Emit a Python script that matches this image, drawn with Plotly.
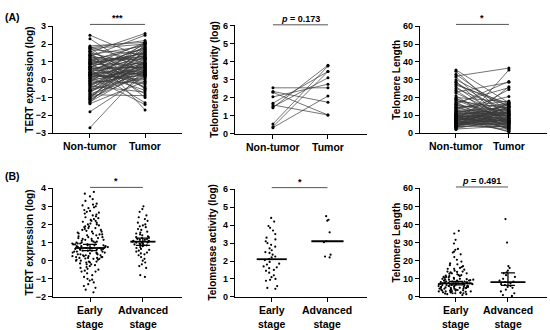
import plotly.graph_objects as go
from plotly.subplots import make_subplots

FONT = "Liberation Sans, Arial, sans-serif"

# ---------------- (A) paired data ----------------
a1_cats = ["Non-tumor", "Tumor"]
a1_nontumor = [2.5, 2.3, 1.9, 1.85, 1.8, 1.75, 1.7, 1.62, 1.55, 1.5,
               1.45, 1.4, 1.38, 1.3, 1.25, 1.2, 1.15, 1.1, 1.05, 1.0,
               0.98, 0.92, 0.88, 0.85, 0.8, 0.75, 0.72, 0.7, 0.65, 0.6,
               0.58, 0.55, 0.5, 0.45, 0.42, 0.4, 0.35, 0.3, 0.28, 0.25,
               0.2, 0.18, 0.15, 0.1, 0.08, 0.05, 0.0, -0.05, -0.08, -0.1,
               -0.15, -0.2, -0.25, -0.3, -0.35, -0.4, -0.45, -0.5, -0.55, -0.6,
               -0.65, -0.7, -0.75, -0.8, -0.85, -0.9, -0.95, -1.0, -1.05, -1.1,
               -1.15, -1.2, -1.25, -1.3, -1.35, -1.8, -2.7, 1.6, 1.1, 0.6,
               0.3, 0.9, -0.3, 0.2, 1.35, 0.7, 1.0, -0.6, 0.4, 1.8]
a1_tumor = [1.2, 0.3, 2.1, 0.9, -0.5, 2.0, 1.4, 0.1, 2.6, 0.8,
            -1.0, 1.9, 0.5, 2.5, 1.1, -0.3, 1.7, 0.6, 2.0, 0.2,
            1.3, -0.8, 1.5, 0.9, 2.1, 0.4, -0.4, 1.8, 0.7, 1.2,
            -1.3, 0.3, 1.6, 1.0, -0.6, 2.0, 0.5, 1.4, -0.1, 0.9,
            1.7, 0.2, -1.4, 1.1, 0.6, 1.9, 0.4, 1.3, -0.2, 0.8,
            2.1, 0.3, 1.0, 0.5, -0.7, 1.5, 0.7, 1.2, 0.1, 1.8,
            0.4, 0.9, 1.6, 0.2, -0.9, 1.0, 0.6, 1.4, 0.3, 2.0,
            0.8, 1.1, 0.5, 1.7, -0.1, 0.2, 0.6, -1.7, 1.3, 0.7,
            0.0, 1.5, 0.9, 0.4, -0.5, 1.8, 1.2, 0.8, 0.3, 2.2]

a2_nontumor = [2.55, 2.35, 2.3, 2.05, 1.7, 1.6, 1.5, 1.45, 0.55, 0.4, 0.35]
a2_tumor = [2.55, 1.75, 1.05, 2.75, 3.45, 1.05, 3.1, 3.8, 3.75, 3.45, 2.1]

a3_nontumor = [35.5, 34.8, 33, 32, 31.5, 30, 29, 28.5, 27, 26,
               25, 24, 23, 22.5, 21, 20, 19.5, 19, 18, 17.5,
               17, 16.5, 16, 15.5, 15, 14.5, 14, 13.5, 13, 12.5,
               12, 11.8, 11.5, 11, 10.8, 10.5, 10.2, 10, 9.8, 9.5,
               9.2, 9, 8.8, 8.5, 8.2, 8, 7.8, 7.5, 7.2, 7,
               6.8, 6.5, 6.2, 6, 5.8, 5.5, 5.2, 5, 4.8, 4.5,
               4.2, 4, 3.8, 3.5, 3.2, 3, 2.8, 2.5, 2.2, 2,
               8.6, 11.2, 6.6, 9.6, 13.2, 7.4, 5.6, 10.4, 12.2, 14.2,
               3.6, 4.6, 6.4, 8.4, 9.4, 5.4, 7.6, 16.2, 18.5, 27.5]
a3_tumor = [17, 8, 12, 36.5, 5, 15, 3, 10, 16.5, 6,
            13, 4.5, 28.5, 9, 2, 17.5, 7, 11, 14, 1.5,
            25.5, 8.5, 6, 12.5, 3.5, 16, 10.5, 20.5, 5.5, 9.5,
            14.5, 7.5, 4, 17, 11.5, 2.5, 13.5, 6.5, 8, 15.5,
            10, 3, 12, 5, 24.5, 7, 16.5, 9, 1, 11,
            6, 14, 4.5, 8.5, 13, 2, 10, 7.5, 15, 5.5,
            12, 9, 3.5, 17, 6.5, 11.5, 26, 8, 4, 35.5,
            5, 7, 16, 2.5, 10.5, 13.5, 4.5, 6, 9.5, 18,
            12.5, 8, 3, 11, 0.5, 14.5, 6.5, 29, 7, 15]

# ---------------- (B) stage data ----------------
b_cats = ["Early<br>stage", "Advanced<br>stage"]
b1_early = [3.8, 3.7, 3.55, 3.4, 3.3, 3.15, 3.1, 3.05, 3.0, 2.95,
            2.9, 2.8, 2.75, 2.7, 2.6, 2.55, 2.5, 2.45, 2.4, 2.35,
            2.3, 2.25, 2.2, 2.15, 2.1, 2.05, 2.0, 2.0, 1.95, 1.9,
            1.85, 1.8, 1.8, 1.75, 1.7, 1.65, 1.6, 1.6, 1.55, 1.5,
            1.5, 1.45, 1.4, 1.4, 1.35, 1.3, 1.3, 1.25, 1.2, 1.2,
            1.15, 1.1, 1.1, 1.05, 1.0, 1.0, 1.0, 0.95, 0.95, 0.9,
            0.9, 0.85, 0.85, 0.8, 0.8, 0.8, 0.75, 0.75, 0.7, 0.7,
            0.7, 0.65, 0.65, 0.6, 0.6, 0.6, 0.55, 0.55, 0.5, 0.5,
            0.5, 0.45, 0.45, 0.4, 0.4, 0.35, 0.35, 0.3, 0.3, 0.3,
            0.25, 0.25, 0.2, 0.2, 0.2, 0.15, 0.15, 0.1, 0.1, 0.05,
            0.05, 0.0, 0.0, -0.05, -0.1, -0.1, -0.15, -0.2, -0.2, -0.25,
            -0.3, -0.35, -0.4, -0.45, -0.5, -0.55, -0.6, -0.6, -0.7, -0.8,
            -0.9, -1.0, -1.05, -1.1, -1.2, -1.3, -1.4, -1.5, -1.6, -1.75,
            2.65, 2.2, 1.9, 1.7, 1.45, 1.15, 0.95, 0.75, 0.55, 0.35,
            0.15, 1.05, 0.85, 0.65, 0.45, 0.25, 0.12, -0.05, 1.25, 0.9]
b1_adv = [3.0, 2.85, 2.7, 2.5, 2.4, 2.3, 2.2, 2.1, 2.0, 1.95,
          1.9, 1.85, 1.75, 1.7, 1.6, 1.55, 1.5, 1.45, 1.4, 1.35,
          1.3, 1.25, 1.2, 1.15, 1.1, 1.1, 1.05, 1.05, 1.0, 1.0,
          0.95, 0.95, 0.9, 0.85, 0.8, 0.75, 0.7, 0.65, 0.6, 0.55,
          0.5, 0.45, 0.4, 0.35, 0.3, 0.2, 0.1, 0.0, -0.1, -0.2,
          -0.3, -0.4, -0.8, -0.9, 1.15, 1.2, 0.9, 1.0, 1.3, 0.85]
b1_median = [0.7, 1.05]
b1_ci_lo = [0.55, 0.85]
b1_ci_hi = [0.9, 1.25]

b2_early = [4.4, 4.2, 3.95, 3.85, 3.7, 3.5, 3.3, 3.2, 3.0, 2.9,
            2.8, 2.7, 2.6, 2.5, 2.45, 2.35, 2.2, 2.1, 2.05, 1.95,
            1.85, 1.8, 1.7, 1.6, 1.5, 1.45, 1.35, 1.2, 1.1, 1.0,
            0.95, 0.9, 0.6, 0.5, 0.45, 2.25, 1.65, 3.1]
b2_adv = [4.5, 4.3, 4.25, 3.6, 3.1, 3.05, 2.35, 2.25, 2.2]
b2_median = [2.1, 3.1]

b3_early = [36.5, 35, 31.5, 29.5, 26.5, 26, 25, 24.5, 23.5, 22,
            20.5, 19.5, 18.5, 18, 17, 16.5, 16, 15.5, 15.5, 15,
            14.5, 14, 14, 13.5, 13, 13, 12.5, 12, 12, 11.5,
            11.5, 11, 11, 10.5, 10.5, 10, 10, 10, 9.5, 9.5,
            9.5, 9, 9, 9, 8.5, 8.5, 8.5, 8, 8, 8,
            8, 7.5, 7.5, 7.5, 7.5, 7, 7, 7, 7, 6.5,
            6.5, 6.5, 6.5, 6, 6, 6, 6, 5.5, 5.5, 5.5,
            5, 5, 5, 5, 4.5, 4.5, 4.5, 4, 4, 4,
            3.5, 3.5, 3.5, 3, 3, 3, 2.5, 2.5, 2.5, 2,
            2, 2, 1.5, 1.5, 1, 17.5, 12.8, 9.8, 8.2, 7.2,
            6.8, 5.8, 5.2, 4.8, 4.2, 3.8, 3.2, 2.8, 2.2, 10.8,
            11.8, 13.8, 6.2, 7.8, 9.2, 5.6, 4.6, 3.6, 2.6, 1.8]
b3_adv = [43, 30, 17, 16, 13.5, 13, 12, 11, 10, 9, 8.5, 8.2,
          7.5, 7, 6.5, 5.5, 5, 4, 3, 2, 1, 0.5, 14.5, 6]
b3_median = [7.5, 8.2]
b3_ci_lo = [6.6, 6.3]
b3_ci_hi = [8.6, 13.3]

# --------------------------------------------------
W, H = 550, 330
fig = make_subplots(rows=2, cols=3)


def paired(nt, t):
    xs, ys = [], []
    for a, b in zip(nt, t):
        xs += [0, 1, None]
        ys += [a, b, None]
    return xs, ys


for (nt, t, col) in [(a1_nontumor, a1_tumor, 1), (a2_nontumor, a2_tumor, 2),
                     (a3_nontumor, a3_tumor, 3)]:
    xs, ys = paired(nt, t)
    fig.add_trace(go.Scatter(x=xs, y=ys, mode="lines+markers",
                             line=dict(color="#3a3a3a", width=0.7),
                             marker=dict(color="black", size=3, symbol="circle"),
                             cliponaxis=False, hoverinfo="skip", showlegend=False),
                  row=1, col=col)


def swarm(vals, pos, width, jitter, col, size=2.2):
    fig.add_trace(go.Box(y=vals, x0=pos, boxpoints="all", jitter=jitter, pointpos=0,
                         width=width, fillcolor="rgba(0,0,0,0)",
                         line=dict(color="rgba(0,0,0,0)", width=0),
                         marker=dict(color="black", size=size),
                         hoverinfo="skip", showlegend=False),
                  row=2, col=col)


swarm(b1_early, 0, 0.75, 0.9, 1)
swarm(b1_adv, 1, 0.5, 0.85, 1)
swarm(b2_early, 0, 0.3, 1.0, 2)
swarm(b2_adv, 1, 0.15, 1.0, 2)
swarm(b3_early, 0, 0.75, 0.95, 3)
swarm(b3_adv, 1, 0.4, 0.9, 3)


def median_marks(med, lo, hi, sizes, col):
    for i in range(2):
        err = None
        if lo is not None:
            err = dict(type="data", symmetric=False, array=[hi[i] - med[i]],
                       arrayminus=[med[i] - lo[i]], color="black",
                       thickness=1.3, width=7)
        fig.add_trace(go.Scatter(x=[i], y=[med[i]], mode="markers",
                                 marker=dict(symbol="line-ew", size=sizes[i],
                                             line=dict(color="black", width=1.8)),
                                 error_y=err, cliponaxis=False,
                                 hoverinfo="skip", showlegend=False),
                      row=2, col=col)


median_marks(b1_median, b1_ci_lo, b1_ci_hi, [21.5, 18], 1)
median_marks(b2_median, None, None, [21.5, 23], 2)
median_marks(b3_median, b3_ci_lo, b3_ci_hi, [23.5, 25], 3)

# --------------- axes ---------------
panels = [
    ("xaxis", "yaxis", "x", (53, 182), (22, 132), [-0.67, 1.67], [-3, 3], 1, a1_cats),
    ("xaxis2", "yaxis2", "x2", (235, 367), (21, 133), [-0.69, 1.71], [0, 6], 1, a1_cats),
    ("xaxis3", "yaxis3", "x3", (420, 547), (22, 132), [-0.68, 1.72], [0, 60], 10, a1_cats),
    ("xaxis4", "yaxis4", "x4", (53, 182), (189, 301), [-0.70, 1.74], [-2, 4], 1, b_cats),
    ("xaxis5", "yaxis5", "x5", (235, 367), (190, 301), [-0.66, 1.71], [0, 6], 1, b_cats),
    ("xaxis6", "yaxis6", "x6", (420, 547), (189, 301), [-0.69, 1.75], [0, 60], 10, b_cats),
]
common = dict(showline=True, linecolor="black", linewidth=1.4, ticks="outside",
              ticklen=4, tickwidth=1.2, tickcolor="black", showgrid=False,
              zeroline=False, fixedrange=True)
ann = []
for xk, yk, xref, (x0, x1), (yt, yb), xr, yr, dt, cats in panels:
    fig.layout[xk].update(domain=[x0 / W, x1 / W], range=xr, tickvals=[0, 1],
                          ticktext=["", ""], **common)
    fig.layout[yk].update(domain=[(H - yb) / H, (H - yt) / H], range=yr, dtick=dt,
                          tickfont=dict(family=FONT, size=9, color="black", weight="bold"),
                          **common)
    for i, c in enumerate(cats):
        ann.append(dict(text=c, x=i, y=(H - yb - 5) / H, xref=xref, yref="paper",
                        xanchor="center", yanchor="top", showarrow=False,
                        font=dict(family=FONT, size=10.5, color="black", weight="bold")))

# --------------- annotations ---------------
titles = [("TERT expression (log)", 30, 77), ("Telomerase activity (log)", 215, 77),
          ("Telomere Length", 397, 77), ("TERT expression (log)", 30, 245),
          ("Telomerase activity (log)", 213, 245), ("Telomere Length", 397, 245)]
for txt, xp, yp in titles:
    ann.append(dict(text=txt, x=xp / W, y=(H - yp) / H, xref="paper", yref="paper",
                    xanchor="center", yanchor="middle", textangle=-90, showarrow=False,
                    font=dict(family=FONT, size=10, color="black", weight="bold")))

sig = [("x", "y domain", "***", 1.018), ("x2", "y2 domain", "<i>p</i> = 0.173", 1.005),
       ("x3", "y3 domain", "*", 1.018), ("x4", "y4 domain", "*", 1.008),
       ("x5", "y5 domain", "*", 1.015), ("x6", "y6 domain", "<i>p</i> = 0.491", 1.012)]
shapes = []
for xr_, yr_, txt, yv in sig:
    shapes.append(dict(type="line", xref=xr_, yref=yr_, x0=0, x1=1, y0=yv, y1=yv,
                       line=dict(color="#555555", width=1)))
    ann.append(dict(text=txt, x=0.5, y=yv, xref=xr_, yref=yr_, xanchor="center",
                    yanchor="bottom", showarrow=False, yshift=-1,
                    font=dict(family=FONT, size=9, color="black", weight="bold")))

for txt, yp in [("(A)", 12), ("(B)", 176)]:
    ann.append(dict(text=txt, x=3 / W, y=(H - yp) / H, xref="paper", yref="paper",
                    xanchor="left", yanchor="middle", showarrow=False,
                    font=dict(family=FONT, size=10.5, color="black", weight="bold")))

fig.update_layout(width=W, height=H, margin=dict(l=0, r=0, t=0, b=0),
                  paper_bgcolor="white", plot_bgcolor="white",
                  annotations=ann, shapes=shapes, showlegend=False,
                  boxmode="overlay", font=dict(family=FONT, color="black"))

fig.write_html("out.html", config={"displayModeBar": False},
               post_script="document.body.style.margin='0';document.body.style.padding='0';")
